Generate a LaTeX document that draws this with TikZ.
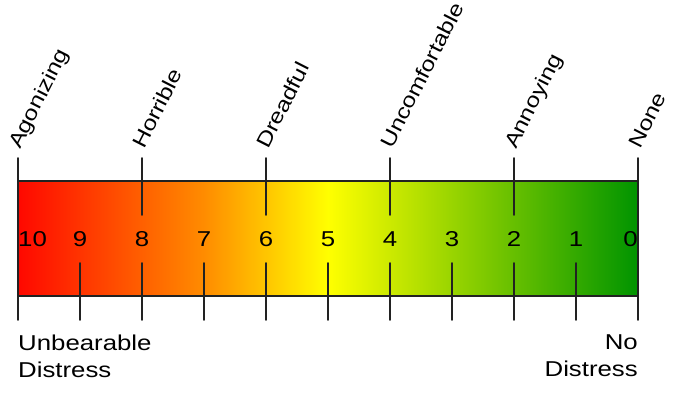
\documentclass[tikz,border=0pt]{standalone}
\usepackage{fontspec}
\setmainfont{Liberation Sans}[FakeStretch=1.2]
\definecolor{scRed}{RGB}{255,8,0}
\definecolor{scOrange}{RGB}{255,140,0}
\definecolor{scYellow}{RGB}{255,255,0}
\definecolor{scGreen}{RGB}{0,148,0}
\definecolor{scLine}{RGB}{34,34,34}
\pgfdeclarehorizontalshading{distress}{100bp}{color(0bp)=(scRed); color(25bp)=(scRed); color(40bp)=(scOrange); color(50bp)=(scYellow); color(75bp)=(scGreen); color(100bp)=(scGreen)}

\begin{document}
\begin{tikzpicture}[line cap=round,line join=round,x=1pt,y=1pt,
		num/.style={font=\fontsize{21.5}{24}\selectfont,inner sep=0pt},
		word/.style={font=\fontsize{20.5}{24}\selectfont,inner sep=0pt,anchor=base west,rotate=63},
		foot/.style={font=\fontsize{21.5}{27}\selectfont,inner sep=0pt}]
		\useasboundingbox (0,0) rectangle (673,401);
		% coloured bar
		\shade [shading=distress] (18,105) rectangle (638,220);
		\draw [line width=1.7pt,color=scLine] (18,105) rectangle (638,220);
		% upper ticks
		\draw [line width=1.7pt,color=scLine] (18,243)-- (18,186);
		\draw [line width=1.7pt,color=scLine] (142,243)-- (142,186);
		\draw [line width=1.7pt,color=scLine] (266,243)-- (266,186);
		\draw [line width=1.7pt,color=scLine] (390,243)-- (390,186);
		\draw [line width=1.7pt,color=scLine] (514,243)-- (514,186);
		\draw [line width=1.7pt,color=scLine] (638,243)-- (638,186);
		% lower ticks
		\draw [line width=1.7pt,color=scLine] (18,138)-- (18,81);
		\draw [line width=1.7pt,color=scLine] (80,138)-- (80,81);
		\draw [line width=1.7pt,color=scLine] (142,138)-- (142,81);
		\draw [line width=1.7pt,color=scLine] (204,138)-- (204,81);
		\draw [line width=1.7pt,color=scLine] (266,138)-- (266,81);
		\draw [line width=1.7pt,color=scLine] (328,138)-- (328,81);
		\draw [line width=1.7pt,color=scLine] (390,138)-- (390,81);
		\draw [line width=1.7pt,color=scLine] (452,138)-- (452,81);
		\draw [line width=1.7pt,color=scLine] (514,138)-- (514,81);
		\draw [line width=1.7pt,color=scLine] (576,138)-- (576,81);
		\draw [line width=1.7pt,color=scLine] (638,138)-- (638,81);
		% numbers
		\node [num,anchor=west] (n10) at (18,162) {10};
		\node [num] (n9) at (80,162) {9};
		\node [num] (n8) at (142,162) {8};
		\node [num] (n7) at (204,162) {7};
		\node [num] (n6) at (266,162) {6};
		\node [num] (n5) at (328,162) {5};
		\node [num] (n4) at (390,162) {4};
		\node [num] (n3) at (452,162) {3};
		\node [num] (n2) at (514,162) {2};
		\node [num] (n1) at (576,162) {1};
		\node [num,anchor=east] (n0) at (638,162) {0};
		% descriptions
		\node [word] (agonizing) at (20,251) {Agonizing};
		\node [word] (horrible) at (144,251) {Horrible};
		\node [word] (dreadful) at (268,251) {Dreadful};
		\node [word] (uncomfortable) at (392,251) {Uncomfortable};
		\node [word] (annoying) at (516,251) {Annoying};
		\node [word] (none) at (640,251) {None};
		\node [foot,anchor=north west,align=left] (worst) at (18,66) {Unbearable\\Distress};
		\node [foot,anchor=north east,align=right] (best) at (638,66) {No\\Distress};
	\end{tikzpicture}
\end{document}
